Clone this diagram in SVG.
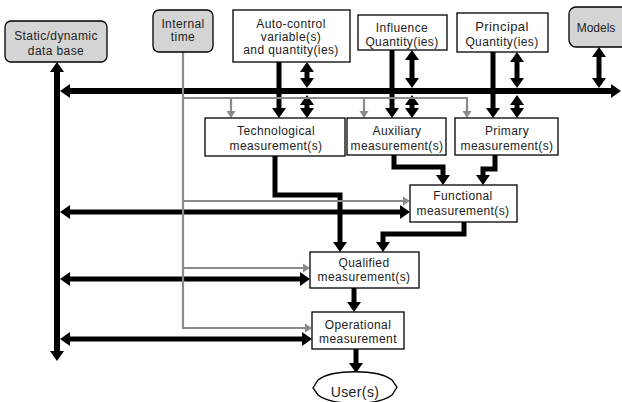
<svg xmlns="http://www.w3.org/2000/svg" width="622" height="402" viewBox="0 0 622 402">
  <defs>
    <marker id="ah" markerUnits="userSpaceOnUse" markerWidth="10" markerHeight="14" refX="3" refY="7" orient="auto-start-reverse" overflow="visible">
      <path d="M0,0 L10,7 L0,14 Z" fill="#000"/>
    </marker>
    <marker id="ahg" markerUnits="userSpaceOnUse" markerWidth="7" markerHeight="9" refX="2" refY="4.5" orient="auto-start-reverse" overflow="visible">
      <path d="M0,0 L7,4.5 L0,9 Z" fill="#8a8a8a"/>
    </marker>
    <style>
      text { font-family: "Liberation Sans", Arial, sans-serif; font-size: 12px; letter-spacing: 0.4px; fill: #222; text-anchor: middle; }
      .box { fill: #fff; stroke: #000; stroke-width: 1.3; }
      .src { fill: #d4d4d4; stroke: #000; stroke-width: 1.3; }
      .bus { fill: none; stroke: #000; stroke-width: 6; }
      .blk { fill: none; stroke: #000; stroke-width: 5; }
      .one { marker-end: url(#ah); }
      .two { marker-start: url(#ah); marker-end: url(#ah); }
      .gry { fill: none; stroke: #8a8a8a; stroke-width: 2.2; }
      .gone { marker-end: url(#ahg); }
    </style>
  </defs>

  <!-- connectors -->
  <g id="connectors">
    <!-- data buses -->
    <path class="bus two" d="M67,91 H614"/>
    <path class="bus two" d="M57,69 V354"/>
    <path class="blk two" d="M67,212 H403"/>
    <path class="blk two" d="M67,279 H303"/>
    <path class="blk two" d="M67,339 H305"/>

    <!-- inputs to first-level measurements -->
    <path class="blk one" d="M279,62 V111"/>
    <path class="blk two" d="M307,69 V81"/>
    <path class="blk two" d="M307,102 V111"/>
    <path class="blk one" d="M392,50 V111"/>
    <path class="blk two" d="M412,57 V81"/>
    <path class="blk two" d="M412,102 V111"/>
    <path class="blk one" d="M493,52 V111"/>
    <path class="blk two" d="M517,59 V81"/>
    <path class="blk two" d="M517,102 V111"/>
    <path class="blk two" d="M599,54 V81"/>

    <!-- measurement chain -->
    <path class="blk one" d="M275,156 V195 H340 V245"/>
    <path class="blk one" d="M394,155 V167 H443 V178"/>
    <path class="blk one" d="M495,155 V169 H483 V178"/>
    <path class="blk one" d="M464,222 V234 H383 V245"/>
    <path class="blk one" d="M354,288 V305"/>
    <path class="blk one" d="M356,349 V366" stroke-width="6"/>

    <!-- internal time distribution -->
    <path class="gry gone" d="M183,52 V328 H307"/>
    <path class="gry gone" d="M183,98 H467 V113"/>
    <path class="gry gone" d="M231,98 V113"/>
    <path class="gry gone" d="M364,98 V113"/>
    <path class="gry gone" d="M183,201 H405"/>
    <path class="gry gone" d="M183,268 H305"/>
  </g>

  <g id="database">
    <rect class="src" x="5" y="21" width="102" height="41" rx="6"/>
    <text x="56" y="40">Static/dynamic</text>
    <text x="56" y="55">data base</text>
  </g>

  <g id="internal-time">
    <rect class="src" x="153" y="10" width="60" height="42" rx="6"/>
    <text x="183" y="28">Internal</text>
    <text x="183" y="41">time</text>
  </g>

  <g id="auto-control">
    <rect class="box" x="233" y="10" width="117" height="52"/>
    <text x="291" y="28">Auto-control</text>
    <text x="291" y="41">variable(s)</text>
    <text x="291" y="54">and quantity(ies)</text>
  </g>

  <g id="influence">
    <rect class="box" x="358" y="15" width="89" height="35"/>
    <text x="402" y="32">Influence</text>
    <text x="402" y="46">Quantity(ies)</text>
  </g>

  <g id="principal">
    <rect class="box" x="457" y="13" width="91" height="39"/>
    <text x="502" y="31" style="font-size:13px">Principal</text>
    <text x="502" y="46">Quantity(ies)</text>
  </g>

  <g id="models">
    <rect class="src" x="569" y="7" width="60" height="40" rx="7"/>
    <text x="596" y="32" style="letter-spacing:0">Models</text>
  </g>

  <g id="technological">
    <rect class="box" x="205" y="118" width="140" height="38"/>
    <text x="276" y="135">Technological</text>
    <text x="276" y="150">measurement(s)</text>
  </g>

  <g id="auxiliary">
    <rect class="box" x="347" y="118" width="99" height="37"/>
    <text x="397" y="135">Auxiliary</text>
    <text x="397" y="150">measurement(s)</text>
  </g>

  <g id="primary">
    <rect class="box" x="455" y="118" width="103" height="37"/>
    <text x="507" y="135">Primary</text>
    <text x="507" y="150">measurement(s)</text>
  </g>

  <g id="functional">
    <rect class="box" x="410" y="185" width="107" height="37"/>
    <text x="463" y="200">Functional</text>
    <text x="463" y="215">measurement(s)</text>
  </g>

  <g id="qualified">
    <rect class="box" x="310" y="252" width="109" height="36"/>
    <text x="364" y="267">Qualified</text>
    <text x="364" y="281">measurement(s)</text>
  </g>

  <g id="operational">
    <rect class="box" x="312" y="312" width="92" height="37"/>
    <text x="358" y="329">Operational</text>
    <text x="358" y="343">measurement</text>
  </g>

  <g id="users">
    <path class="box" d="M318,380 C332,369 378,369 392,380 L397,387 L392,395 C378,406 332,406 318,395 L313,388 Z"/>
    <text x="355" y="397" style="font-size:14px">User(s)</text>
  </g>
</svg>
